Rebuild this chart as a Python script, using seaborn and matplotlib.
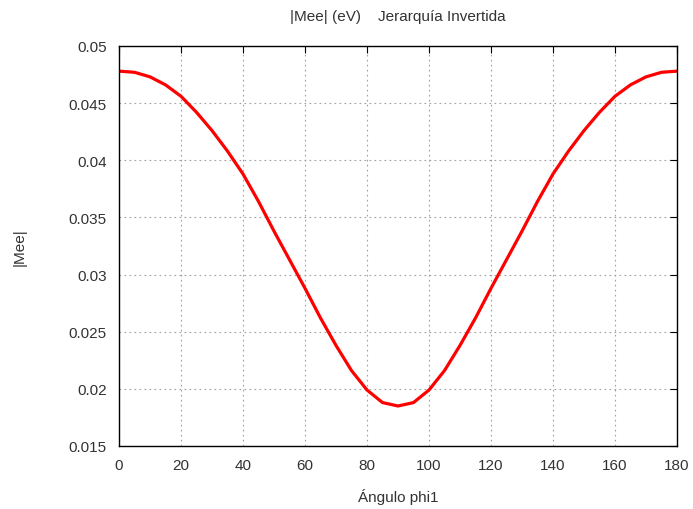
import matplotlib
matplotlib.use("Agg")
import matplotlib.pyplot as plt
import seaborn as sns
import pandas as pd
from matplotlib.ticker import FixedLocator, FixedFormatter

phi = [0, 5, 10, 15, 20, 25, 30, 35, 40, 45, 50, 55, 60, 65, 70, 75, 80, 85, 90,
       95, 100, 105, 110, 115, 120, 125, 130, 135, 140, 145, 150, 155, 160, 165, 170, 175, 180]
mee = [0.0478, 0.0477, 0.0473, 0.0466, 0.0456, 0.0442, 0.0426, 0.0408, 0.0388, 0.0364,
       0.0338, 0.0313, 0.0288, 0.0262, 0.0238, 0.0216, 0.0199, 0.0188, 0.0185,
       0.0188, 0.0199, 0.0216, 0.0238, 0.0262, 0.0288, 0.0313, 0.0338, 0.0364, 0.0388,
       0.0408, 0.0426, 0.0442, 0.0456, 0.0466, 0.0473, 0.0477, 0.0478]
xticks = [0, 20, 40, 60, 80, 100, 120, 140, 160, 180]
yticks = [0.015, 0.02, 0.025, 0.03, 0.035, 0.04, 0.045, 0.05]
ytick_labels = ["0.015", "0.02", "0.025", "0.03", "0.035", "0.04", "0.045", "0.05"]

sns.set_style("white")
plt.rcParams['font.family'] = ['Liberation Sans', 'DejaVu Sans']

df = pd.DataFrame({"phi": phi, "mee": mee})
fig = plt.figure(figsize=(6.93, 5.10), dpi=100)
ax = fig.add_axes([119/693, 63/510, (677-119)/693, (447-47)/510])
sns.lineplot(data=df, x="phi", y="mee", ax=ax, color="#ff0000", linewidth=2.3)

ax.set_xlim(0, 180)
ax.set_ylim(0.015, 0.05)
ax.xaxis.set_major_locator(FixedLocator(xticks))
ax.set_xticklabels([str(t) for t in xticks])
ax.yaxis.set_major_locator(FixedLocator(yticks))
ax.yaxis.set_major_formatter(FixedFormatter(ytick_labels))
ax.grid(True, color="#a0a0a0", linestyle=(0, (1.5, 3)), linewidth=0.8)
for s in ax.spines.values():
    s.set_color("black")
    s.set_linewidth(1.0)
ax.tick_params(direction="in", length=5, width=0.8, top=True, right=True,
               labelsize=11, colors="black", pad=9)
for lbl in ax.get_xticklabels() + ax.get_yticklabels():
    lbl.set_color("#333333")
ax.set_xlabel("Ángulo phi1", fontsize=11, color="#333333", labelpad=11)
ax.set_ylabel("|Mee|", fontsize=11, color="#333333", labelpad=30)
ax.set_title("|Mee| (eV)    Jerarquía Invertida", fontsize=11, color="#333333", pad=19)
fig.savefig("out.png", dpi=100)
